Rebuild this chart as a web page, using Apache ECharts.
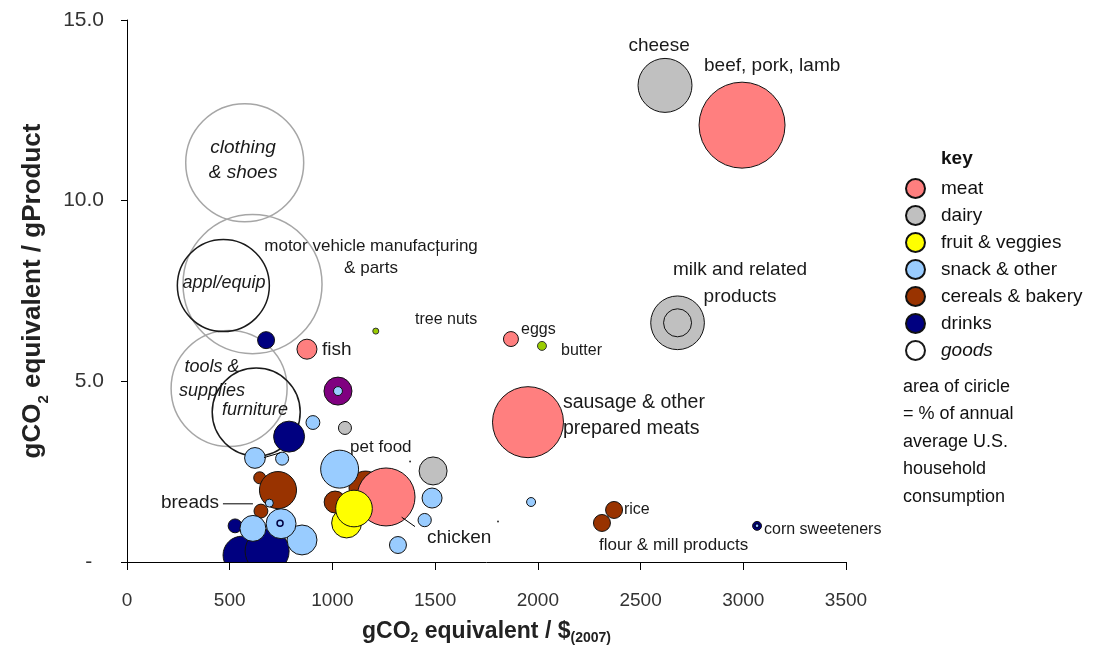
<!DOCTYPE html>
<html>
<head>
<meta charset="utf-8">
<script src="https://cdn.jsdelivr.net/npm/echarts@6/dist/echarts.min.js"></script>
<style>
html,body{margin:0;padding:0;background:#fff;}
#chart{width:1093px;height:647px;}
</style>
</head>
<body>
<div id="chart"></div>
<script>
// ---- data: [gCO2 per $ (2007), gCO2 per g product, share of household consumption] ----
const meat = [
  [2994, 12.09, 4.62],  // beef, pork, lamb
  [1952, 3.87, 3.15],   // sausage & other prepared meats
  [1261, 1.80, 2.10],   // chicken
  [876, 5.89, 0.25],    // fish
  [1869, 6.17, 0.14]    // eggs
];
const dairy = [
  [2619, 13.19, 1.82],  // cheese
  [2680, 6.62, 1.80],   // milk and related products
  [1490, 2.52, 0.49],
  [1061, 3.71, 0.106],
  [2680, 6.62, 0.49]
];
const fruitVeg = [
  [1069, 1.08, 0.56],
  [1105, 1.48, 0.84]
];
const snack = [
  [852, 0.61, 0.56],
  [613, 0.93, 0.42],
  [750, 1.06, 0.56],
  [1035, 2.57, 0.90],
  [1485, 1.77, 0.25],
  [1449, 1.16, 0.11],
  [1319, 0.47, 0.18],
  [905, 3.86, 0.12],
  [623, 2.88, 0.27],
  [755, 2.86, 0.106],
  [693, 1.63, 0.04],
  [1967, 1.66, 0.05],
  [1027, 4.73, 0.05]
];
const cereals = [
  [646, 2.33, 0.09],
  [652, 1.41, 0.12],
  [735, 1.99, 0.86],
  [1013, 1.66, 0.30],
  [1161, 2.06, 0.68],
  [2312, 1.08, 0.18],   // flour & mill products
  [2371, 1.44, 0.18]    // rice
];
const drinks = [
  [526, 1.00, 0.12],
  [560, 0.19, 0.90],
  [682, 0.30, 1.21],
  [677, 6.14, 0.18],
  [789, 3.47, 0.60],
  [3067, 1.00, 0.05]    // corn sweeteners
];
const goods = [
  [469, 7.65, 5.29],    // appl/equip
  [629, 4.15, 4.84]     // furniture
];
const goodsLight = [
  [573, 11.05, 8.70],   // clothing & shoes
  [611, 7.69, 12.08],   // motor vehicle manufacturing & parts
  [497, 4.80, 8.41]     // tools & supplies
];
const purple = [[1027, 4.73, 0.49]];
const greenSmall = [
  [2020, 5.98, 0.05],   // butter
  [1211, 6.39, 0.0225]  // tree nuts
];
const rings = [
  [745, 1.07, 0.0225],
  [3067, 1.00, 0.01]
];
const tinyDots = [[1806, 1.12], [1378, 2.78]];
const leaders = [
  [[467, 1.61], [613, 1.61]],
  [[1337, 1.24], [1402, 0.98]],
  [[667, 2.89], [745, 3.02]],
  [[1511, 8.86], [1511, 8.47]]
];
const xTicks = [0, 500, 1000, 1500, 2000, 2500, 3000, 3500];
const yTicks = [0, 5, 10, 15];
const legendNames = ['meat', 'dairy', 'fruit & veggies', 'snack & other', 'cereals & bakery', 'drinks', 'goods'];
// annotation text: [text, x, y]
const annotations = [
  ['cheese', 2590, 14.28],
  ['beef, pork, lamb', 2809, 13.73],
  ['clothing\n& shoes', 565, 11.13],
  ['motor vehicle manufacturing\n& parts', 1188, 8.44],
  ['appl/equip', 472, 7.72],
  ['tools &\nsupplies', 414, 5.06],
  ['furniture', 623, 4.21],
  ['fish', 949, 5.87],
  ['tree nuts', 1402, 6.70],
  ['eggs', 1918, 6.42],
  ['butter', 2113, 5.84],
  ['milk and related\nproducts', 2984, 7.71],
  ['sausage & other\nprepared meats', 2122, 4.04],
  ['pet food', 1086, 3.18],
  ['breads', 448, 1.63],
  ['chicken', 1460, 0.66],
  ['rice', 2419, 1.44],
  ['flour & mill products', 2298, 0.47],
  ['corn sweeteners', 3101, 0.91]
];

// ---- presentation ----
const FONT = '"Liberation Sans", Arial, sans-serif';
const annStyle = {
  'cheese': {a: 'center', s: 19},
  'beef, pork, lamb': {a: 'left', s: 19},
  'clothing\n& shoes': {a: 'center', s: 19, i: true, lh: 25},
  'motor vehicle manufacturing\n& parts': {a: 'center', s: 17, lh: 22},
  'appl/equip': {a: 'center', s: 18, i: true},
  'tools &\nsupplies': {a: 'center', s: 18, i: true, lh: 24},
  'furniture': {a: 'center', s: 18, i: true},
  'fish': {a: 'left', s: 19},
  'tree nuts': {a: 'left', s: 16},
  'eggs': {a: 'left', s: 16},
  'butter': {a: 'left', s: 16},
  'milk and related\nproducts': {a: 'center', s: 19, lh: 27},
  'sausage & other\nprepared meats': {a: 'left', s: 19.5, lh: 26},
  'pet food': {a: 'left', s: 17},
  'breads': {a: 'right', s: 19},
  'chicken': {a: 'left', s: 19},
  'rice': {a: 'left', s: 16},
  'flour & mill products': {a: 'left', s: 17},
  'corn sweeteners': {a: 'left', s: 16}
};
const sizeFn = v => 40 * Math.sqrt(v[2]);
function bubble(name, data, fill, border, bw) {
  return {
    name: name, type: 'scatter', data: data, symbol: 'circle',
    symbolSize: sizeFn, clip: false,
    itemStyle: {color: fill, borderColor: border, borderWidth: bw, opacity: 1},
    emphasis: {disabled: true}, silent: true
  };
}
const series = [
  bubble('goods-light', goodsLight, 'rgba(255,255,255,0)', '#a6a6a6', 1.5),
  bubble('goods', goods, 'rgba(255,255,255,0)', '#1a1a1a', 1.5),
  bubble('drinks', drinks, '#000080', '#111', 1),
  bubble('cereals & bakery', cereals, '#993300', '#111', 1),
  bubble('meat', meat, '#FF7F7F', '#111', 1),
  bubble('dairy', dairy, '#C0C0C0', '#111', 1),
  bubble('other', purple, '#800080', '#111', 1),
  bubble('green', greenSmall, '#99CC00', '#333', 1),
  bubble('snack & other', snack, '#99CCFF', '#111', 1),
  bubble('fruit & veggies', fruitVeg, '#FFFF00', '#111', 1),
  bubble('rings', rings, '#99CCFF', '#000040', 1.5),
  {name: 'dots', type: 'scatter', data: tinyDots, symbolSize: 2, itemStyle: {color: '#000'}, silent: true}
];
leaders.forEach((l, i) => series.push({
  name: 'leader' + i, type: 'line', data: l, symbol: 'none', silent: true,
  lineStyle: {color: '#000', width: 1}
}));

const chart = echarts.init(document.getElementById('chart'), null, {renderer: 'canvas'});
const gridBox = {left: 127, top: 20, right: 247, bottom: 85};
const option = {
  animation: false,
  backgroundColor: '#fff',
  grid: {left: gridBox.left, top: gridBox.top, right: gridBox.right, bottom: gridBox.bottom,
    containLabel: false, outerBoundsMode: 'none'},
  xAxis: {
    type: 'value', min: xTicks[0], max: xTicks[xTicks.length - 1], interval: 500, z: 20,
    splitLine: {show: false},
    axisLine: {show: true, onZero: false, lineStyle: {color: '#000', width: 1}},
    axisTick: {show: true, inside: false, length: 8, lineStyle: {color: '#000'}},
    axisLabel: {margin: 29, fontFamily: FONT, fontSize: 19, color: '#333', formatter: v => String(v)},
    name: '{b|gCO}{s|2}{b| equivalent / $}{s|(2007)}',
    nameLocation: 'middle', nameGap: 55,
    nameTextStyle: {
      rich: {
        b: {fontFamily: FONT, fontWeight: 'bold', fontSize: 23, color: '#222', lineHeight: 26, verticalAlign: 'bottom'},
        s: {fontFamily: FONT, fontWeight: 'bold', fontSize: 14, color: '#222', lineHeight: 15, verticalAlign: 'bottom', padding: [0, 0, -2, 0]}
      }
    }
  },
  yAxis: {
    type: 'value', min: yTicks[0], max: yTicks[yTicks.length - 1], interval: 5, z: 20,
    splitLine: {show: false},
    axisLine: {show: true, lineStyle: {color: '#000', width: 1}},
    axisTick: {show: true, inside: false, length: 6, lineStyle: {color: '#000'}},
    axisLabel: {margin: 23, fontFamily: FONT, fontSize: 21, color: '#333',
      formatter: v => v === 0 ? '-  ' : v.toFixed(1)},
    name: '{b|gCO}{s|2}{b| equivalent / gProduct}',
    nameLocation: 'middle', nameGap: 81, nameRotate: 90,
    nameTextStyle: {
      rich: {
        b: {fontFamily: FONT, fontWeight: 'bold', fontSize: 26, color: '#222', lineHeight: 28, verticalAlign: 'bottom'},
        s: {fontFamily: FONT, fontWeight: 'bold', fontSize: 15, color: '#222', lineHeight: 16, verticalAlign: 'bottom', padding: [0, 0, -5, 0]}
      }
    }
  },
  legend: {
    orient: 'vertical', left: 900, top: 173, itemWidth: 19, itemHeight: 19, itemGap: 6,
    selectedMode: false, icon: 'circle',
    textStyle: {fontFamily: FONT, fontSize: 19, color: '#111', padding: [0, 0, 0, 11]},
    data: legendNames.map(n => n === 'goods' ? {name: n, textStyle: {fontStyle: 'italic'}} : n)
  },
  series: series
};
chart.setOption(option);

function buildGraphics() {
  const els = [];
  // mask that trims bubbles below the x axis
  els.push({type: 'rect', z: 10, silent: true,
    shape: {x: gridBox.left - 60, y: 647 - gridBox.bottom + 0.5, width: 1093 - gridBox.right - gridBox.left + 120, height: 22},
    style: {fill: '#fff'}});
  annotations.forEach(a => {
    const st = annStyle[a[0]];
    const p = chart.convertToPixel({gridIndex: 0}, [a[1], a[2]]);
    els.push({type: 'text', z: 30, silent: true, x: p[0], y: p[1],
      style: {text: a[0], fill: '#1a1a1a', align: st.a, verticalAlign: 'middle',
        font: (st.i ? 'italic ' : '') + st.s + 'px ' + FONT, lineHeight: st.lh || st.s + 4}});
  });
  els.push({type: 'text', z: 30, silent: true, left: 941, top: 149,
    style: {text: 'key', font: 'bold 19px ' + FONT, fill: '#111'}});
  els.push({type: 'text', z: 30, silent: true, left: 903, top: 373,
    style: {text: 'area of ciricle\n= % of annual\naverage U.S.\nhousehold\nconsumption', font: '18px ' + FONT, fill: '#111', lineHeight: 27.5}});
  return els;
}
chart.setOption({graphic: buildGraphics()});
</script>
</body>
</html>
